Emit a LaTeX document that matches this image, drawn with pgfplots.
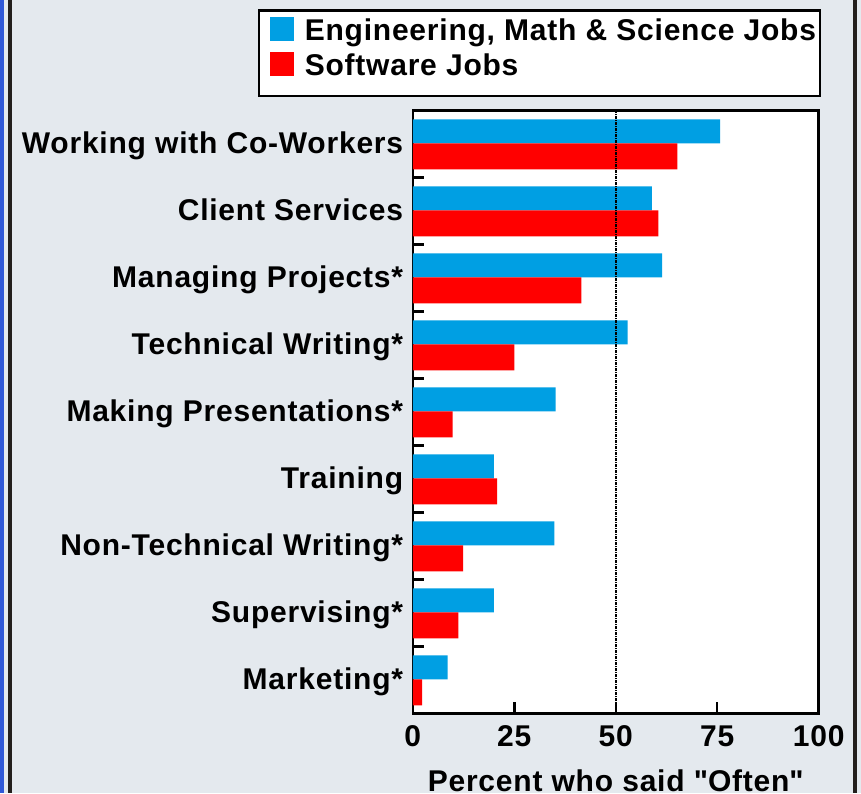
\documentclass[border=0pt]{standalone}
\usepackage{pgfplots}
\pgfplotsset{compat=1.18}
\usepackage{fontspec}
\setmainfont{Liberation Sans}[LetterSpace=2.6]
\definecolor{bgc}{RGB}{228,233,238}
\definecolor{eng}{RGB}{0,159,227}
\definecolor{sw}{RGB}{255,0,0}
\definecolor{framec}{RGB}{35,31,28}
\definecolor{stripc}{RGB}{48,88,215}
\newcommand{\bigf}{\bfseries\fontsize{30}{36}\selectfont}

\begin{document}
\begin{tikzpicture}
\useasboundingbox (0pt,0pt) rectangle (861pt,793pt);
\fill[bgc] (0pt,0pt) rectangle (861pt,793pt);
\fill[stripc] (0pt,0pt) rectangle (3.8pt,793pt);
\fill[framec] (7.5pt,0pt) rectangle (12.2pt,793pt);
\fill[framec] (852.5pt,0pt) rectangle (857.3pt,793pt);

\begin{axis}[
  at={(412.8pt,79.7pt)}, anchor=south west,
  scale only axis, width=405.9pt, height=602.8pt,
  xbar,
  xmin=0, xmax=100, ymin=-0.5, ymax=8.5,
  axis background/.style={fill=white},
  axis line style={black, line width=2.5pt},
  xtick={0,25,50,75,100}, xtick pos=bottom, ytick pos=left,
  xtick align=inside, ytick align=inside,
  major tick length=11pt,
  xtick style={black, line width=2.5pt},
  ytick style={black, line width=2.5pt},
  ytick={-0.5,0.5,...,8.5}, yticklabels={},
  extra y ticks={0,...,8},
  extra y tick labels={Marketing*,Supervising*,Non-Technical Writing*,Training,Making Presentations*,Technical Writing*,Managing Projects*,Client Services,Working with Co-Workers},
  extra y tick style={major tick length=0pt},
  /pgf/number format/assume math mode=true,
  tick label style={font=\bigf},
  xticklabel style={anchor=base, inner sep=0pt, yshift=-33.5pt},
  yticklabel style={anchor=base east, inner sep=0pt, xshift=-9.5pt, yshift=-9.5pt},
  xlabel={Percent who said \textquotedbl Often\textquotedbl},
  xlabel style={at={(axis description cs:0.5,0)}, anchor=base, inner sep=0pt, yshift=-77.8pt, font=\bigf},
  legend style={
    at={(axis description cs:-0.3789,1.1659)}, anchor=north west,
    draw=black, line width=2.5pt, fill=white, outer sep=0pt,
    inner xsep=4pt, inner ysep=5.5pt,
    font=\bigf, row sep=-3.5pt,
    nodes={inner sep=0pt, text height=24pt, text depth=15pt},
    cells={anchor=base west},
  },
]
\addplot[fill=eng, draw=none, bar width=24pt, bar shift=12.5pt,
  legend image code/.code={\path (-6.5pt,0pt) (35.3pt,0pt); \fill[eng] (0pt,-0.7pt) rectangle (24pt,23.3pt);}]
  coordinates {(8.6,0) (20.0,1) (34.9,2) (20.0,3) (35.2,4) (52.9,5) (61.4,6) (58.9,7) (75.7,8)};
\addlegendentry{Engineering, Math \& Science Jobs}
\addplot[fill=sw, draw=none, bar width=26pt, bar shift=-12.5pt,
  legend image code/.code={\path (-6.5pt,0pt) (35.3pt,0pt); \fill[sw] (0pt,-0.7pt) rectangle (24pt,23.3pt);}]
  coordinates {(2.3,0) (11.2,1) (12.4,2) (20.8,3) (9.8,4) (25.0,5) (41.5,6) (60.5,7) (65.2,8)};
\addlegendentry{Software Jobs}
\addplot[sharp plot, mark=none, black, line width=2.2pt, dash pattern=on 3pt off 1pt on 1pt off 1pt, forget plot]
  coordinates {(50,-0.5) (50,8.5)};
\draw[black, line width=2.5pt] (axis cs:25,-0.5) -- ([yshift=11pt]axis cs:25,-0.5);
\draw[black, line width=2.5pt] (axis cs:50,-0.5) -- ([yshift=11pt]axis cs:50,-0.5);
\draw[black, line width=2.5pt] (axis cs:75,-0.5) -- ([yshift=11pt]axis cs:75,-0.5);
\end{axis}
\end{tikzpicture}
\end{document}
